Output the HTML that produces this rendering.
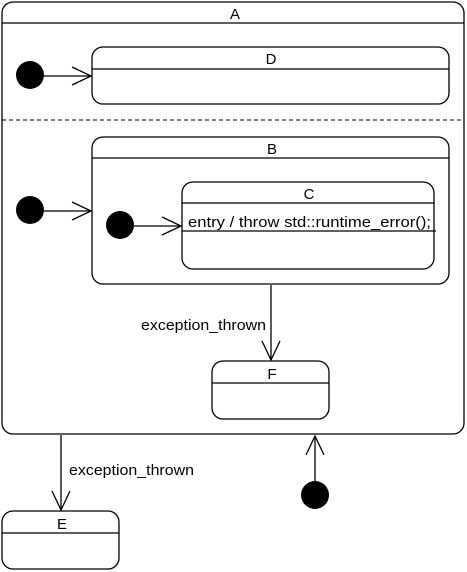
<!DOCTYPE html>
<html><head><style>body{margin:0;background:#fff}svg{display:block}</style></head><body>
<svg width="467" height="572" viewBox="0 0 467 572" xmlns="http://www.w3.org/2000/svg" font-family="Liberation Sans, sans-serif" font-size="15" fill="none" stroke="#000" stroke-width="1.3">
<rect x="2" y="2" width="462" height="432" rx="11"/>
<line x1="2" y1="23" x2="464" y2="23"/>
<text x="235" y="19" text-anchor="middle" fill="#000" stroke="none">A</text>
<rect x="92" y="47" width="357" height="57" rx="11"/>
<line x1="92" y1="69" x2="449" y2="69"/>
<text x="271" y="64" text-anchor="middle" fill="#000" stroke="none">D</text>
<line x1="2" y1="120" x2="464" y2="120" stroke-dasharray="4,3" stroke-width="1"/>
<rect x="92" y="137" width="357" height="147" rx="11"/>
<line x1="92" y1="158" x2="449" y2="158"/>
<text x="272" y="154" text-anchor="middle" fill="#000" stroke="none">B</text>
<rect x="182" y="182" width="252" height="87" rx="11"/>
<line x1="182" y1="203" x2="434" y2="203"/>
<line x1="182" y1="231" x2="436" y2="231"/>
<text x="309" y="199" text-anchor="middle" fill="#000" stroke="none">C</text>
<text x="188" y="227" fill="#000" stroke="none" textLength="243" lengthAdjust="spacingAndGlyphs">entry / throw std::runtime_error();</text>
<rect x="212" y="361" width="117" height="58" rx="11"/>
<line x1="212" y1="383" x2="329" y2="383"/>
<text x="272" y="379" text-anchor="middle" fill="#000" stroke="none">F</text>
<rect x="2" y="511" width="117" height="58" rx="11"/>
<line x1="2" y1="533" x2="119" y2="533"/>
<text x="62" y="529" text-anchor="middle" fill="#000" stroke="none">E</text>
<g fill="#000" stroke="none">
<circle cx="30" cy="75" r="14"/><circle cx="30" cy="210" r="14"/><circle cx="120" cy="225" r="14"/><circle cx="315" cy="495" r="14"/>
</g>
<line x1="44" y1="76" x2="91" y2="76"/><polyline points="72,67 91,76 72,85"/>
<line x1="44" y1="211" x2="91" y2="211"/><polyline points="72,202 91,211 72,220"/>
<line x1="134" y1="226" x2="181" y2="226"/><polyline points="162,217 181,226 162,235"/>
<line x1="271" y1="285" x2="271" y2="360"/><polyline points="262,341 271,360 280,341"/>
<line x1="61" y1="435" x2="61" y2="510"/><polyline points="52,491 61,510 70,491"/>
<line x1="315" y1="481" x2="315" y2="436"/><polyline points="306,455 315,436 324,455"/>
<text x="141" y="330" fill="#000" stroke="none" textLength="125" lengthAdjust="spacingAndGlyphs">exception_thrown</text>
<text x="69" y="475" fill="#000" stroke="none" textLength="125" lengthAdjust="spacingAndGlyphs">exception_thrown</text>
</svg>
</body></html>
